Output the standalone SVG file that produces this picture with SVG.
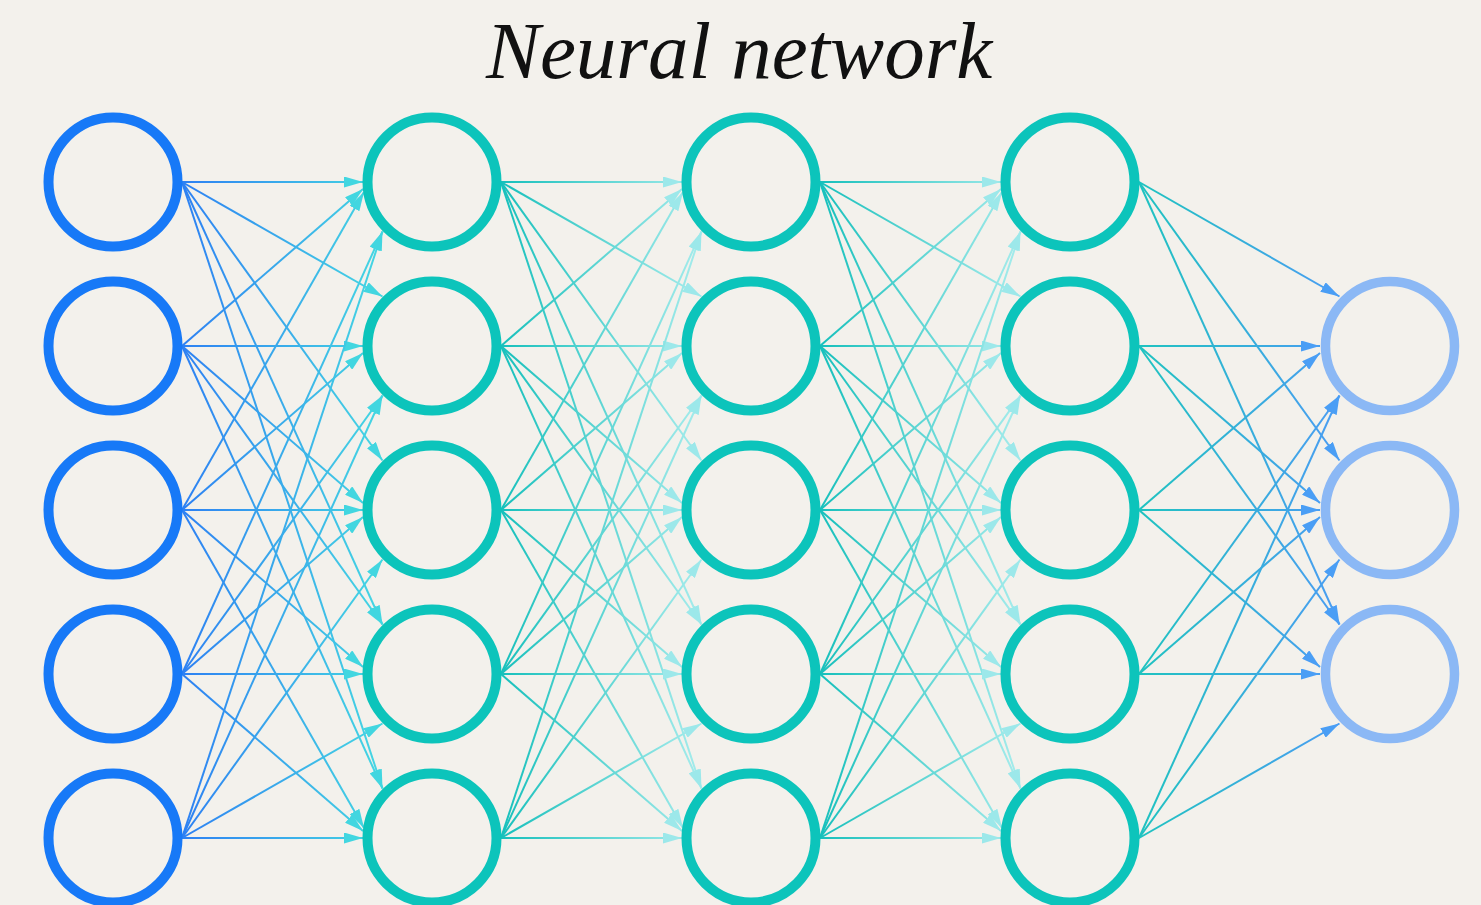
<svg xmlns="http://www.w3.org/2000/svg" width="1481" height="905" viewBox="0 0 1481 905">
<style>
.bg{fill:#f3f1ec}
.title{font-family:"Liberation Serif","DejaVu Serif",serif;font-style:italic;font-size:81px;fill:#111}
.n{fill:none;stroke-width:10}
.in{stroke:#1779f7}
.hid{stroke:#0cc4bb}
.out{stroke:#8bb8f5;stroke-width:9.5}
.e{fill:none;stroke-width:2;stroke-linecap:butt}
.p0 line{stroke:url(#g0);marker-end:url(#a0)}
.p1 line{stroke:url(#g1);marker-end:url(#a1)}
.p2 line{stroke:url(#g1);marker-end:url(#a1)}
.p3 line{stroke:url(#g3);marker-end:url(#a3)}
</style>
<defs>
<linearGradient id="g0" gradientUnits="userSpaceOnUse" x1="182" y1="0" x2="383" y2="0"><stop offset="0" stop-color="#2d80f3"/><stop offset="1" stop-color="#45d8e2"/></linearGradient>
<linearGradient id="g1" gradientUnits="userSpaceOnUse" x1="182" y1="0" x2="383" y2="0"><stop offset="0" stop-color="#17c0bc"/><stop offset="1" stop-color="#a6ecec"/></linearGradient>
<linearGradient id="g3" gradientUnits="userSpaceOnUse" x1="182" y1="0" x2="383" y2="0"><stop offset="0" stop-color="#1fc3c0"/><stop offset="1" stop-color="#4a9cf3"/></linearGradient>
<marker id="a0" markerUnits="userSpaceOnUse" markerWidth="19" markerHeight="11" refX="19" refY="5.5" orient="auto" viewBox="0 0 19 11"><path d="M0,0 L19,5.5 L0,11 z" fill="#42d6e0"/></marker>
<marker id="a1" markerUnits="userSpaceOnUse" markerWidth="19" markerHeight="11" refX="19" refY="5.5" orient="auto" viewBox="0 0 19 11"><path d="M0,0 L19,5.5 L0,11 z" fill="#9ce8ea"/></marker>
<marker id="a3" markerUnits="userSpaceOnUse" markerWidth="19" markerHeight="11" refX="19" refY="5.5" orient="auto" viewBox="0 0 19 11"><path d="M0,0 L19,5.5 L0,11 z" fill="#4a9ef5"/></marker>
</defs>
<rect class="bg" x="0" y="0" width="1481" height="905"/>
<text class="title" x="739" y="78" text-anchor="middle">Neural network</text>
<g id="connectors" class="e">
<g class="p0">
<line x1="182" y1="182" x2="363" y2="182"/>
<line x1="182" y1="182" x2="382.5" y2="296.5"/>
<line x1="182" y1="182" x2="382.5" y2="460.5"/>
<line x1="182" y1="182" x2="382.5" y2="624.5"/>
<line x1="182" y1="182" x2="382.5" y2="788.5"/>
<line x1="182" y1="346" x2="363" y2="189"/>
<line x1="182" y1="346" x2="363" y2="346"/>
<line x1="182" y1="346" x2="363" y2="503"/>
<line x1="182" y1="346" x2="382.5" y2="624.5"/>
<line x1="182" y1="346" x2="382.5" y2="788.5"/>
<line x1="182" y1="510" x2="364" y2="192"/>
<line x1="182" y1="510" x2="363" y2="353"/>
<line x1="182" y1="510" x2="363" y2="510"/>
<line x1="182" y1="510" x2="363" y2="667"/>
<line x1="182" y1="510" x2="364" y2="828"/>
<line x1="182" y1="674" x2="382.5" y2="231.5"/>
<line x1="182" y1="674" x2="382.5" y2="395.5"/>
<line x1="182" y1="674" x2="363" y2="517"/>
<line x1="182" y1="674" x2="363" y2="674"/>
<line x1="182" y1="674" x2="363" y2="831"/>
<line x1="182" y1="838" x2="382.5" y2="231.5"/>
<line x1="182" y1="838" x2="382.5" y2="395.5"/>
<line x1="182" y1="838" x2="382.5" y2="559.5"/>
<line x1="182" y1="838" x2="382.5" y2="723.5"/>
<line x1="182" y1="838" x2="363" y2="838"/>
</g>
<g class="p1" transform="translate(319,0)">
<line x1="182" y1="182" x2="363" y2="182"/>
<line x1="182" y1="182" x2="382.5" y2="296.5"/>
<line x1="182" y1="182" x2="382.5" y2="460.5"/>
<line x1="182" y1="182" x2="382.5" y2="624.5"/>
<line x1="182" y1="182" x2="382.5" y2="788.5"/>
<line x1="182" y1="346" x2="363" y2="189"/>
<line x1="182" y1="346" x2="363" y2="346"/>
<line x1="182" y1="346" x2="363" y2="503"/>
<line x1="182" y1="346" x2="382.5" y2="624.5"/>
<line x1="182" y1="346" x2="382.5" y2="788.5"/>
<line x1="182" y1="510" x2="364" y2="192"/>
<line x1="182" y1="510" x2="363" y2="353"/>
<line x1="182" y1="510" x2="363" y2="510"/>
<line x1="182" y1="510" x2="363" y2="667"/>
<line x1="182" y1="510" x2="364" y2="828"/>
<line x1="182" y1="674" x2="382.5" y2="231.5"/>
<line x1="182" y1="674" x2="382.5" y2="395.5"/>
<line x1="182" y1="674" x2="363" y2="517"/>
<line x1="182" y1="674" x2="363" y2="674"/>
<line x1="182" y1="674" x2="363" y2="831"/>
<line x1="182" y1="838" x2="382.5" y2="231.5"/>
<line x1="182" y1="838" x2="382.5" y2="395.5"/>
<line x1="182" y1="838" x2="382.5" y2="559.5"/>
<line x1="182" y1="838" x2="382.5" y2="723.5"/>
<line x1="182" y1="838" x2="363" y2="838"/>
</g>
<g class="p2" transform="translate(638,0)">
<line x1="182" y1="182" x2="363" y2="182"/>
<line x1="182" y1="182" x2="382.5" y2="296.5"/>
<line x1="182" y1="182" x2="382.5" y2="460.5"/>
<line x1="182" y1="182" x2="382.5" y2="624.5"/>
<line x1="182" y1="182" x2="382.5" y2="788.5"/>
<line x1="182" y1="346" x2="363" y2="189"/>
<line x1="182" y1="346" x2="363" y2="346"/>
<line x1="182" y1="346" x2="363" y2="503"/>
<line x1="182" y1="346" x2="382.5" y2="624.5"/>
<line x1="182" y1="346" x2="382.5" y2="788.5"/>
<line x1="182" y1="510" x2="364" y2="192"/>
<line x1="182" y1="510" x2="363" y2="353"/>
<line x1="182" y1="510" x2="363" y2="510"/>
<line x1="182" y1="510" x2="363" y2="667"/>
<line x1="182" y1="510" x2="364" y2="828"/>
<line x1="182" y1="674" x2="382.5" y2="231.5"/>
<line x1="182" y1="674" x2="382.5" y2="395.5"/>
<line x1="182" y1="674" x2="363" y2="517"/>
<line x1="182" y1="674" x2="363" y2="674"/>
<line x1="182" y1="674" x2="363" y2="831"/>
<line x1="182" y1="838" x2="382.5" y2="231.5"/>
<line x1="182" y1="838" x2="382.5" y2="395.5"/>
<line x1="182" y1="838" x2="382.5" y2="559.5"/>
<line x1="182" y1="838" x2="382.5" y2="723.5"/>
<line x1="182" y1="838" x2="363" y2="838"/>
</g>
<g class="p3" transform="translate(957,0)">
<line x1="182" y1="182" x2="382.5" y2="296.5"/>
<line x1="182" y1="182" x2="382.5" y2="460.5"/>
<line x1="182" y1="182" x2="382.5" y2="624.5"/>
<line x1="182" y1="346" x2="363" y2="346"/>
<line x1="182" y1="346" x2="363" y2="503"/>
<line x1="182" y1="346" x2="382.5" y2="624.5"/>
<line x1="182" y1="510" x2="363" y2="353"/>
<line x1="182" y1="510" x2="363" y2="510"/>
<line x1="182" y1="510" x2="363" y2="667"/>
<line x1="182" y1="674" x2="382.5" y2="395.5"/>
<line x1="182" y1="674" x2="363" y2="517"/>
<line x1="182" y1="674" x2="363" y2="674"/>
<line x1="182" y1="838" x2="382.5" y2="395.5"/>
<line x1="182" y1="838" x2="382.5" y2="559.5"/>
<line x1="182" y1="838" x2="382.5" y2="723.5"/>
</g>
</g>
<g id="input-1"><circle class="n in" cx="113" cy="182" r="64.5"/></g>
<g id="input-2"><circle class="n in" cx="113" cy="346" r="64.5"/></g>
<g id="input-3"><circle class="n in" cx="113" cy="510" r="64.5"/></g>
<g id="input-4"><circle class="n in" cx="113" cy="674" r="64.5"/></g>
<g id="input-5"><circle class="n in" cx="113" cy="838" r="64.5"/></g>
<g id="hidden1-1"><circle class="n hid" cx="432" cy="182" r="64.5"/></g>
<g id="hidden1-2"><circle class="n hid" cx="432" cy="346" r="64.5"/></g>
<g id="hidden1-3"><circle class="n hid" cx="432" cy="510" r="64.5"/></g>
<g id="hidden1-4"><circle class="n hid" cx="432" cy="674" r="64.5"/></g>
<g id="hidden1-5"><circle class="n hid" cx="432" cy="838" r="64.5"/></g>
<g id="hidden2-1"><circle class="n hid" cx="751" cy="182" r="64.5"/></g>
<g id="hidden2-2"><circle class="n hid" cx="751" cy="346" r="64.5"/></g>
<g id="hidden2-3"><circle class="n hid" cx="751" cy="510" r="64.5"/></g>
<g id="hidden2-4"><circle class="n hid" cx="751" cy="674" r="64.5"/></g>
<g id="hidden2-5"><circle class="n hid" cx="751" cy="838" r="64.5"/></g>
<g id="hidden3-1"><circle class="n hid" cx="1070" cy="182" r="64.5"/></g>
<g id="hidden3-2"><circle class="n hid" cx="1070" cy="346" r="64.5"/></g>
<g id="hidden3-3"><circle class="n hid" cx="1070" cy="510" r="64.5"/></g>
<g id="hidden3-4"><circle class="n hid" cx="1070" cy="674" r="64.5"/></g>
<g id="hidden3-5"><circle class="n hid" cx="1070" cy="838" r="64.5"/></g>
<g id="output-1"><circle class="n out" cx="1390" cy="346" r="64.5"/></g>
<g id="output-2"><circle class="n out" cx="1390" cy="510" r="64.5"/></g>
<g id="output-3"><circle class="n out" cx="1390" cy="674" r="64.5"/></g>
</svg>
